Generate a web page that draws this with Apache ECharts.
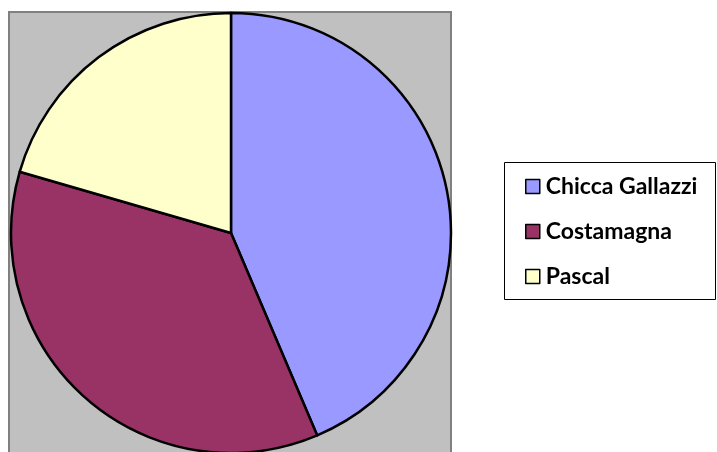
<!DOCTYPE html>
<html><head><meta charset="utf-8">
<script src="https://cdn.jsdelivr.net/npm/echarts@6/dist/echarts.min.js"></script>
<style>html,body{margin:0;padding:0;background:#fff}#c{width:717px;height:452px}</style>
</head><body><div id="c"></div>
<script>
const categories = ['Chicca Gallazzi', 'Costamagna', 'Pascal'];
const values = [17, 14, 8];
const colors = ['#9999FF', '#993366', '#FFFFCC'];

const chart = echarts.init(document.getElementById('c'));
chart.setOption({
  animation: false,
  graphic: [
    { type: 'rect', shape: { x: 9, y: 12, width: 442, height: 460 }, style: { fill: '#C0C0C0', stroke: '#808080', lineWidth: 2 }, z: -10 },
    { type: 'rect', shape: { x: 504.5, y: 162.5, width: 211, height: 137 }, style: { fill: '#fff', stroke: '#000', lineWidth: 1 }, z: -10 }
  ],
  legend: {
    orient: 'vertical', left: 525, top: 175, padding: 0,
    itemWidth: 14, itemHeight: 14, itemGap: 22, icon: 'rect',
    itemStyle: { borderColor: '#000', borderWidth: 1.5 },
    textStyle: { fontFamily: 'Lato', fontWeight: 'bold', fontSize: 23, lineHeight: 23, color: '#000', padding: [0, 0, 0, 1] },
    data: categories
  },
  series: [{
    type: 'pie', center: [231, 233], radius: 220, startAngle: 90, clockwise: true,
    label: { show: false }, labelLine: { show: false },
    itemStyle: { borderColor: '#000', borderWidth: 2.5 },
    emphasis: { disabled: true },
    data: categories.map((n, i) => ({ name: n, value: values[i], itemStyle: { color: colors[i] } }))
  }]
});
</script></body></html>
